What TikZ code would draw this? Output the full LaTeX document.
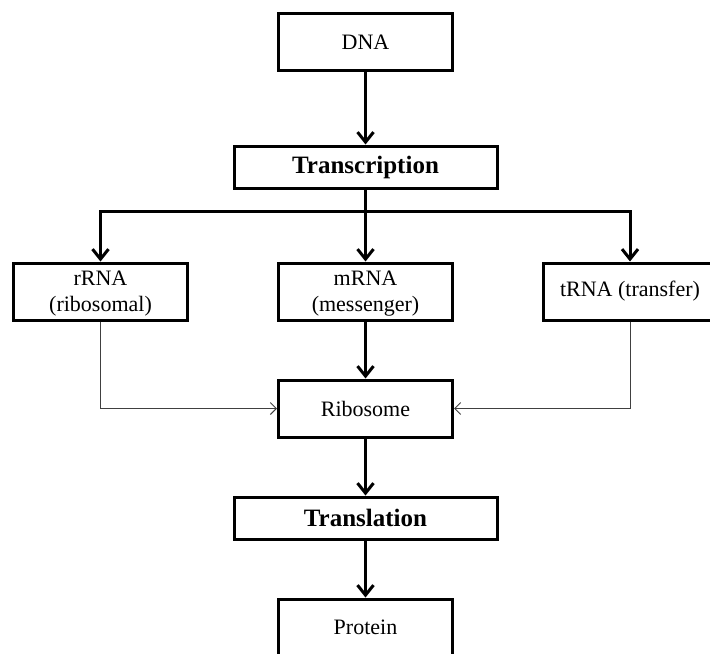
\documentclass[tikz,border=0pt]{standalone}
\usepackage{fontspec}
\setmainfont{Liberation Serif}
\usetikzlibrary{arrows.meta}
\begin{document}
\begin{tikzpicture}[
                    x=0.5pt, y=-0.5pt,
                    every node/.style={rectangle, draw, line width=1.5pt, align=center, inner sep=0pt,
                                       font=\fontsize{11}{13}\selectfont},
                    molbox/.style={minimum width=87pt, minimum height=28.5pt},
                    stagebox/.style={minimum width=131.5pt, minimum height=21pt,
                                     font=\fontsize{12.5}{14}\selectfont\bfseries},
                    mainflow/.style={line width=1.5pt, -{Straight Barb[length=5pt, width=8pt]}},
                    sideflow/.style={line width=0.5pt, draw=black!75, -{Straight Barb[length=3pt, width=6pt]}}
                ]
                \useasboundingbox (0,0) rectangle (710,653);
                \node[molbox] (dna) at (365.5,42) {DNA};
                \node[stagebox] (transcription) at (365.5,167) {Transcription};
                \node[molbox] (rrna) at (100.5,291.5) {\rule{0pt}{9.5pt}rRNA\\(ribosomal)};
                \node[molbox] (mrna) at (365.5,291.5) {\rule{0pt}{9.5pt}mRNA\\(messenger)};
                \node[molbox] (trna) at (630,291.5) {tRNA (transfer)};
                \node[molbox] (ribosome) at (365.5,408.5) {Ribosome};
                \node[stagebox] (translation) at (365.5,518) {Translation};
                \node[molbox] (protein) at (365.5,627.5) {Protein};
                \coordinate (split) at (365.5,211);

                \draw[mainflow] (dna) -- (transcription);
                \draw[line width=1.5pt] (transcription) -- (split);
                \draw[mainflow] (split) -| (rrna);
                \draw[mainflow] (split) -| (trna);
                \draw[mainflow] (split) -- (mrna);
                \draw[mainflow] (mrna) -- (ribosome);
                \draw[sideflow] (rrna) |- (ribosome);
                \draw[sideflow] (trna) |- (ribosome);
                \draw[mainflow] (ribosome) -- (translation);
                \draw[mainflow] (translation) -- (protein);
                \end{tikzpicture}
\end{document}
